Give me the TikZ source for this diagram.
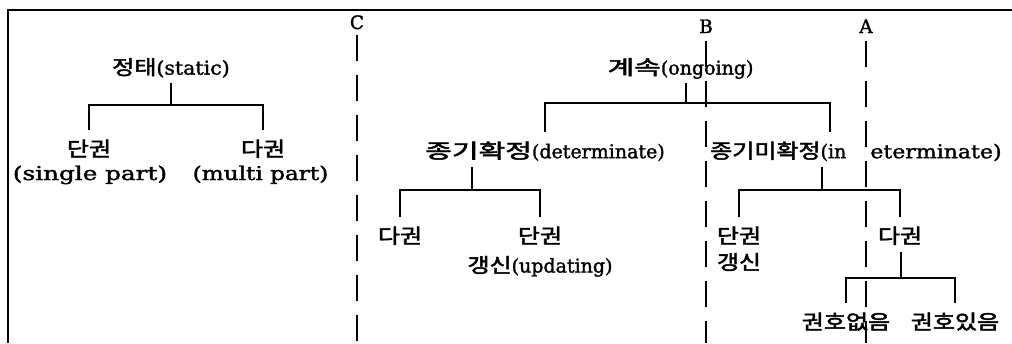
\documentclass[tikz,border=0pt]{standalone}
\usepackage{fontspec}
\usepackage{graphicx}
\setmainfont{DejaVu Serif}[FakeBold=1.6]
\newfontfamily\krfont{Noto Sans CJK KR}[FakeBold=2.2]
\newcommand{\K}[2][1.2]{\scalebox{#1}[1]{\krfont\fontsize{20}{22}\selectfont #2}}
\newcommand{\W}[2]{\scalebox{#1}[1]{#2}}
\tikzset{
  par/.style={font=\fontsize{19}{22}\selectfont, inner xsep=0pt, inner ysep=5pt, text height=15pt, text depth=3pt},
  kid/.style={font=\fontsize{19}{22}\selectfont, anchor=north, inner xsep=0pt, inner ysep=6pt, text height=20pt, text depth=3pt},
  letter/.style={font=\fontsize{18.5}{22}\selectfont, inner sep=0pt, text height=15pt, text depth=3pt, inner ysep=5pt},
  tree/.style={line width=1.8pt},
  divline/.style={line width=1.8pt, dash pattern=on 26pt off 14pt},
  frameline/.style={line width=2.4pt},
}
\begin{document}
\begin{tikzpicture}[x=1pt,y=-1pt]
\useasboundingbox (0,0) rectangle (1012,343);
% frame
\coordinate (ftl) at (8,10);
\coordinate (ftr) at (1012,10);
\coordinate (fbl) at (8,343);
\draw[frameline] (fbl) -- (ftl) -- (ftr);

% static tree
\node[par] (st) at (171,68.6) {\K{정태}\W{1.08}{(static)}};
\node[kid] (st1) at (89,130) {\K{단권}};
\node[par] (st1b) at (90,174) {\W{1.3}{(single part)}};
\node[kid] (st2) at (263,130) {\K{다권}};
\node[par] (st2b) at (260.5,174) {\W{1.22}{(multi part)}};
\coordinate (stj) at (171,105);
\draw[tree] (st.south -| stj) -- (stj);
\draw[tree] (stj) -| (st1.north);
\draw[tree] (stj) -| (st2.north);

% ongoing tree
\node[par] (on) at (680.5,68.6) {\K[1.45]{계속}(ongoing)};
\coordinate (onj) at (686,103);
\node[kid] (det) at (545,132) {\K[1.45]{종기확정}(determinate)};
\node[kid,anchor=north west] (ind) at (710,132) {\K{종기미확정}(in\hspace{24pt}\W{1.16}{eterminate)}};
\draw[tree] (on.south -| onj) -- (onj);
\draw[tree] (onj) -| (det.north);
\draw[tree] (onj) -| ([xshift=120pt]ind.north west);

% determinate subtree
\coordinate (detj) at (472,190);
\node[kid] (d1) at (400,217) {\K{다권}};
\node[kid] (d2) at (540,217) {\K{단권}};
\node[par] (d2b) at (540,266.5) {\K{갱신}(updating)};
\draw[tree] (det.south -| detj) -- (detj);
\draw[tree] (detj) -| (d1.north);
\draw[tree] (detj) -| (d2.north);

% indeterminate subtree
\coordinate (indj) at (822,190);
\node[kid] (i1) at (739,217) {\K{단권}};
\node[par] (i1b) at (739,263.5) {\K{갱신}};
\node[kid] (i2) at (900,217) {\K{다권}};
\draw[tree] (ind.south -| indj) -- (indj);
\draw[tree] (indj) -| (i1.north);
\draw[tree] (indj) -| (i2.north);

\coordinate (i2j) at (901,278);
\node[kid] (i3) at (846,303) {\K{권호없음}};
\node[kid] (i4) at (955,303) {\K{권호있음}};
\draw[tree] (i2.south -| i2j) -- (i2j);
\draw[tree] (i2j) -| (i3.north);
\draw[tree] (i2j) -| (i4.north);

% dividers
\node[letter] (C) at (357,23) {C};
\node[letter] (B) at (706,27) {B};
\node[letter] (A) at (866,27) {A};
\coordinate (Cend) at (357,343);
\coordinate (Bend) at (706,343);
\coordinate (Aend) at (866,343);
\draw[tree] ([yshift=-5pt]C.south) -- ([yshift=2pt]C.south);
\draw[divline] ([yshift=2pt]C.south) -- (Cend);
\draw[divline] (B.south) -- (Bend);
\draw[divline] (A.south) -- (Aend);
\end{tikzpicture}
\end{document}
